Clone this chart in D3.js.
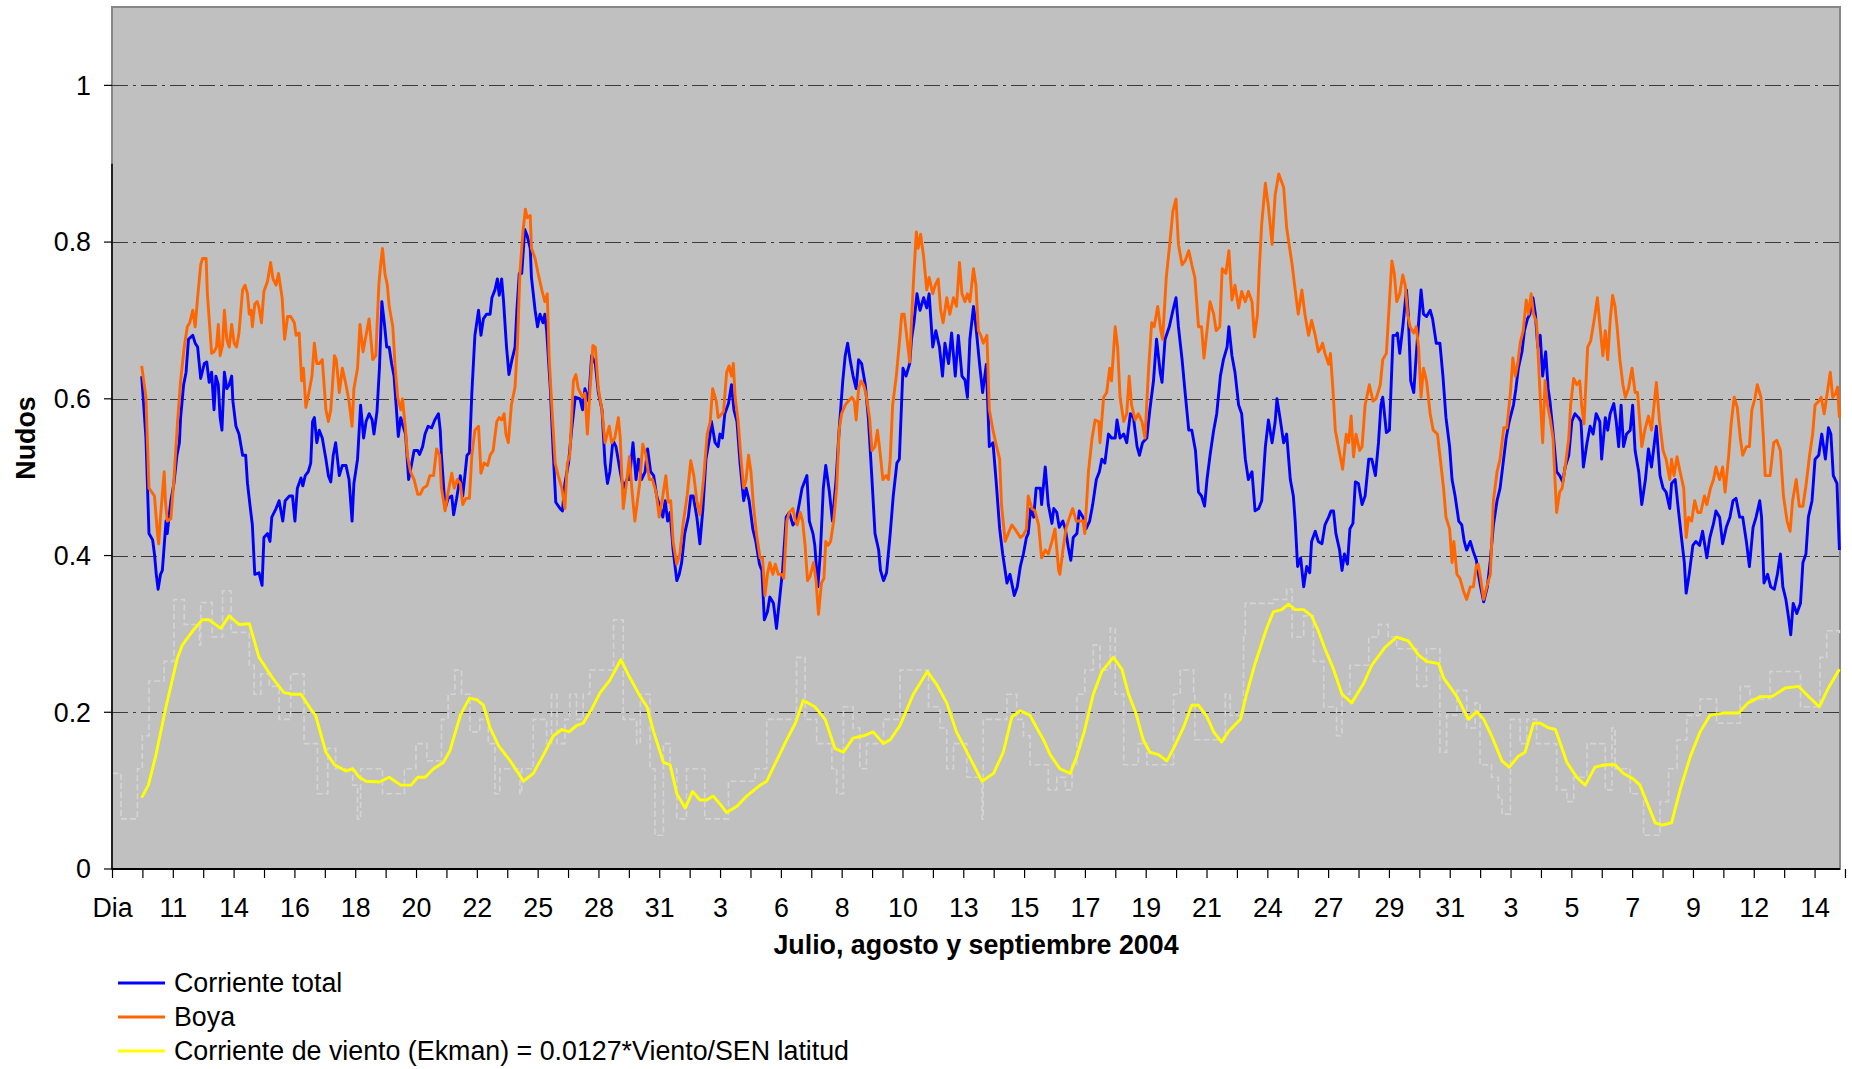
<!DOCTYPE html>
<html>
<head>
<meta charset="utf-8">
<script src="https://cdn.jsdelivr.net/npm/d3@7"></script>
<style>
  body { margin: 0; background: #fff; }
  svg { display: block; font-family: "Liberation Sans", Arial, sans-serif; }
</style>
</head>
<body>
<div id="chart"></div>
<script>
// x positions are in axis units: 0 = "Dia", 1 = first day label, ... (one unit per label)
const xTickLabels = ["Dia", "11", "14", "16", "18", "20", "22", "25", "28", "31", "3", "6", "8",
  "10", "13", "15", "17", "19", "21", "24", "27", "29", "31", "3", "5", "7", "9", "12", "14"];
const yTicks = [0, 0.2, 0.4, 0.6, 0.8, 1];
const yTickLabels = ["0", "0.2", "0.4", "0.6", "0.8", "1"];
const seriesNames = ["Corriente total", "Boya", "Corriente de viento (Ekman) = 0.0127*Viento/SEN latitud"];

const corrienteTotal = [
  [0.48,.629],[0.55,.550],[0.60,.428],[0.66,.420],[0.69,.402],[0.72,.376],[0.75,.357],[0.79,.376],[0.82,.381],[0.88,.444],
  [0.90,.428],[0.96,.470],[1.01,.492],[1.06,.528],[1.10,.544],[1.12,.576],[1.17,.618],[1.21,.634],[1.25,.676],[1.32,.681],
  [1.36,.671],[1.40,.666],[1.45,.626],[1.51,.645],[1.55,.647],[1.59,.621],[1.63,.634],[1.67,.586],[1.70,.629],[1.74,.618],
  [1.77,.576],[1.80,.560],[1.84,.634],[1.88,.613],[1.92,.618],[1.96,.629],[1.98,.597],[2.03,.565],[2.08,.555],[2.14,.528],
  [2.19,.528],[2.22,.492],[2.26,.465],[2.30,.439],[2.34,.376],[2.41,.378],[2.46,.362],[2.49,.423],[2.55,.428],[2.59,.418],
  [2.62,.449],[2.69,.460],[2.74,.470],[2.80,.444],[2.84,.470],[2.91,.476],[2.96,.476],[3.00,.444],[3.04,.486],[3.10,.499],
  [3.13,.489],[3.17,.502],[3.22,.507],[3.26,.518],[3.29,.571],[3.32,.576],[3.36,.544],[3.40,.560],[3.45,.550],[3.51,.523],
  [3.55,.502],[3.59,.494],[3.63,.528],[3.67,.544],[3.70,.523],[3.73,.502],[3.78,.515],[3.84,.515],[3.89,.497],[3.94,.444],
  [3.97,.492],[4.03,.523],[4.08,.592],[4.13,.550],[4.17,.571],[4.22,.581],[4.27,.573],[4.30,.555],[4.35,.584],[4.39,.639],
  [4.43,.724],[4.47,.697],[4.51,.666],[4.55,.666],[4.59,.645],[4.63,.629],[4.67,.586],[4.70,.552],[4.74,.576],[4.78,.565],
  [4.82,.555],[4.87,.497],[4.91,.513],[4.96,.534],[5.02,.534],[5.05,.529],[5.10,.539],[5.14,.555],[5.19,.565],[5.25,.563],
  [5.30,.573],[5.36,.581],[5.39,.560],[5.41,.528],[5.47,.460],[5.52,.473],[5.58,.476],[5.61,.452],[5.66,.473],[5.72,.502],
  [5.76,.476],[5.83,.528],[5.87,.531],[5.91,.608],[5.96,.681],[6.02,.713],[6.06,.681],[6.10,.702],[6.15,.708],[6.21,.708],
  [6.24,.729],[6.29,.739],[6.33,.753],[6.36,.732],[6.40,.753],[6.43,.726],[6.48,.666],[6.52,.631],[6.57,.650],[6.62,.666],
  [6.65,.713],[6.69,.760],[6.73,.760],[6.78,.816],[6.82,.808],[6.87,.792],[6.89,.755],[6.95,.713],[6.99,.692],[7.03,.708],
  [7.08,.697],[7.11,.708],[7.14,.687],[7.20,.613],[7.25,.528],[7.29,.468],[7.36,.460],[7.40,.457],[7.44,.492],[7.50,.518],
  [7.55,.560],[7.61,.602],[7.69,.600],[7.73,.586],[7.77,.613],[7.83,.597],[7.88,.655],[7.94,.645],[7.99,.608],[8.05,.586],
  [8.10,.518],[8.14,.492],[8.18,.507],[8.23,.547],[8.28,.539],[8.35,.507],[8.40,.486],[8.46,.497],[8.50,.497],[8.56,.544],
  [8.61,.497],[8.65,.523],[8.70,.497],[8.76,.507],[8.80,.536],[8.85,.507],[8.90,.502],[8.95,.476],[9.01,.460],[9.05,.449],
  [9.09,.470],[9.13,.444],[9.17,.455],[9.22,.407],[9.28,.368],[9.32,.376],[9.36,.391],[9.41,.428],[9.47,.449],[9.51,.476],
  [9.55,.476],[9.61,.449],[9.66,.415],[9.71,.460],[9.76,.523],[9.82,.550],[9.85,.571],[9.91,.544],[9.96,.539],[9.99,.555],
  [10.03,.550],[10.07,.581],[10.13,.594],[10.18,.618],[10.22,.586],[10.27,.571],[10.32,.518],[10.38,.470],[10.42,.486],[10.47,.470],
  [10.53,.434],[10.58,.418],[10.64,.389],[10.68,.381],[10.72,.318],[10.77,.328],[10.81,.347],[10.87,.339],[10.92,.307],[10.97,.344],
  [11.02,.381],[11.08,.449],[11.13,.455],[11.19,.439],[11.24,.444],[11.28,.460],[11.34,.486],[11.42,.502],[11.46,.444],[11.52,.428],
  [11.55,.413],[11.60,.360],[11.64,.402],[11.69,.486],[11.73,.515],[11.79,.481],[11.84,.444],[11.90,.497],[11.95,.560],[12.01,.623],
  [12.05,.655],[12.09,.671],[12.13,.650],[12.18,.629],[12.23,.613],[12.27,.650],[12.32,.645],[12.38,.618],[12.43,.576],[12.49,.497],
  [12.54,.428],[12.60,.407],[12.63,.381],[12.68,.368],[12.73,.378],[12.79,.428],[12.84,.476],[12.90,.518],[12.94,.523],[13.00,.639],
  [13.05,.629],[13.11,.645],[13.14,.676],[13.18,.697],[13.23,.734],[13.28,.713],[13.34,.729],[13.39,.716],[13.43,.734],[13.49,.666],
  [13.54,.687],[13.60,.666],[13.65,.629],[13.69,.671],[13.75,.645],[13.80,.684],[13.86,.629],[13.91,.681],[13.97,.629],[14.02,.624],
  [14.06,.602],[14.10,.676],[14.16,.718],[14.20,.692],[14.26,.644],[14.31,.608],[14.37,.644],[14.42,.539],[14.48,.544],[14.53,.497],
  [14.59,.434],[14.64,.402],[14.71,.365],[14.76,.376],[14.83,.349],[14.88,.360],[14.93,.386],[14.98,.402],[15.03,.423],[15.06,.428],
  [15.10,.460],[15.15,.449],[15.19,.486],[15.26,.486],[15.28,.465],[15.34,.513],[15.39,.465],[15.45,.441],[15.48,.460],[15.53,.455],
  [15.57,.436],[15.63,.444],[15.67,.434],[15.72,.410],[15.76,.394],[15.80,.423],[15.86,.428],[15.90,.457],[15.96,.449],[16.01,.434],
  [16.07,.444],[16.12,.465],[16.18,.497],[16.23,.507],[16.27,.523],[16.32,.518],[16.38,.555],[16.43,.550],[16.49,.550],[16.52,.573],
  [16.57,.550],[16.63,.555],[16.68,.544],[16.74,.581],[16.79,.576],[16.85,.539],[16.89,.528],[16.94,.544],[17.01,.550],[17.06,.586],
  [17.12,.623],[17.17,.676],[17.23,.634],[17.26,.621],[17.31,.676],[17.38,.692],[17.44,.713],[17.49,.729],[17.53,.692],[17.59,.650],
  [17.64,.608],[17.70,.560],[17.75,.560],[17.81,.534],[17.86,.481],[17.91,.476],[17.96,.463],[18.00,.497],[18.05,.528],[18.11,.560],
  [18.16,.581],[18.22,.629],[18.27,.650],[18.33,.666],[18.36,.692],[18.41,.655],[18.46,.634],[18.52,.592],[18.57,.581],[18.63,.523],
  [18.68,.497],[18.74,.507],[18.79,.457],[18.85,.460],[18.90,.470],[18.96,.539],[19.01,.573],[19.07,.544],[19.12,.570],[19.15,.600],
  [19.20,.576],[19.26,.544],[19.31,.555],[19.37,.497],[19.42,.476],[19.45,.444],[19.49,.386],[19.54,.397],[19.59,.360],[19.64,.386],
  [19.69,.378],[19.72,.418],[19.78,.431],[19.83,.418],[19.89,.415],[19.94,.439],[20.00,.449],[20.04,.457],[20.08,.457],[20.12,.428],
  [20.18,.407],[20.22,.381],[20.26,.402],[20.31,.389],[20.35,.434],[20.40,.441],[20.44,.494],[20.49,.492],[20.55,.465],[20.60,.476],
  [20.66,.523],[20.71,.523],[20.77,.502],[20.82,.544],[20.86,.592],[20.89,.602],[20.95,.557],[21.00,.560],[21.06,.681],[21.11,.681],
  [21.13,.684],[21.17,.658],[21.22,.692],[21.28,.739],[21.31,.708],[21.35,.623],[21.40,.608],[21.44,.655],[21.48,.697],[21.52,.739],
  [21.56,.708],[21.61,.705],[21.67,.713],[21.71,.702],[21.77,.671],[21.83,.671],[21.88,.629],[21.93,.576],[21.99,.539],[22.03,.497],
  [22.08,.476],[22.14,.444],[22.19,.439],[22.23,.418],[22.27,.407],[22.33,.418],[22.38,.405],[22.43,.394],[22.46,.378],[22.50,.360],
  [22.55,.341],[22.61,.360],[22.66,.394],[22.71,.439],[22.77,.470],[22.82,.486],[22.87,.518],[22.92,.550],[22.97,.571],[23.04,.592],
  [23.08,.613],[23.12,.639],[23.18,.660],[23.22,.687],[23.27,.702],[23.31,.708],[23.36,.729],[23.40,.708],[23.44,.666],[23.48,.681],
  [23.52,.629],[23.57,.660],[23.61,.613],[23.64,.597],[23.70,.550],[23.75,.507],[23.80,.502],[23.85,.494],[23.89,.513],[23.95,.528],
  [24.00,.571],[24.05,.581],[24.11,.576],[24.15,.571],[24.19,.513],[24.25,.544],[24.30,.565],[24.35,.555],[24.40,.581],[24.46,.571],
  [24.49,.523],[24.55,.576],[24.59,.560],[24.63,.581],[24.69,.594],[24.73,.571],[24.77,.539],[24.81,.592],[24.85,.539],[24.90,.555],
  [24.96,.560],[25.00,.592],[25.04,.534],[25.10,.507],[25.15,.465],[25.21,.497],[25.26,.536],[25.31,.513],[25.39,.565],[25.45,.502],
  [25.50,.486],[25.55,.481],[25.61,.460],[25.64,.492],[25.70,.497],[25.75,.460],[25.81,.418],[25.85,.391],[25.88,.352],[25.93,.376],
  [25.99,.413],[26.04,.418],[26.10,.413],[26.15,.431],[26.22,.397],[26.27,.423],[26.33,.441],[26.37,.457],[26.43,.449],[26.48,.415],
  [26.54,.436],[26.60,.449],[26.65,.470],[26.70,.473],[26.76,.449],[26.81,.449],[26.87,.418],[26.92,.386],[26.98,.436],[27.03,.449],
  [27.09,.470],[27.12,.449],[27.16,.365],[27.22,.376],[27.27,.360],[27.33,.357],[27.38,.376],[27.43,.402],[27.47,.360],[27.52,.344],
  [27.56,.323],[27.60,.299],[27.64,.339],[27.70,.326],[27.76,.339],[27.80,.391],[27.85,.402],[27.89,.449],[27.95,.470],[28.00,.523],
  [28.06,.528],[28.11,.555],[28.17,.523],[28.22,.563],[28.26,.555],[28.30,.502],[28.36,.492],[28.40,.407]
];

const boya = [
  [0.48,.642],[0.55,.602],[0.60,.486],[0.69,.476],[0.74,.428],[0.76,.415],[0.79,.450],[0.85,.507],[0.87,.470],[0.90,.444],
  [0.96,.447],[1.01,.497],[1.07,.571],[1.12,.623],[1.18,.666],[1.23,.692],[1.27,.697],[1.32,.713],[1.36,.692],[1.40,.729],
  [1.45,.771],[1.48,.779],[1.54,.779],[1.56,.734],[1.59,.702],[1.63,.658],[1.67,.660],[1.71,.666],[1.74,.695],[1.77,.655],
  [1.81,.668],[1.84,.713],[1.88,.676],[1.92,.666],[1.96,.695],[2.00,.671],[2.04,.666],[2.08,.684],[2.14,.739],[2.18,.745],
  [2.22,.734],[2.25,.708],[2.28,.713],[2.30,.692],[2.34,.721],[2.38,.724],[2.41,.716],[2.45,.697],[2.49,.737],[2.55,.750],
  [2.60,.774],[2.64,.753],[2.69,.745],[2.73,.760],[2.79,.729],[2.83,.676],[2.88,.705],[2.93,.705],[2.99,.697],[3.02,.681],
  [3.07,.684],[3.11,.623],[3.14,.639],[3.18,.589],[3.23,.608],[3.28,.629],[3.32,.671],[3.36,.645],[3.40,.645],[3.45,.650],
  [3.51,.586],[3.55,.571],[3.59,.586],[3.65,.655],[3.68,.650],[3.73,.608],[3.78,.639],[3.84,.618],[3.89,.597],[3.94,.565],
  [3.97,.613],[4.03,.639],[4.07,.695],[4.12,.660],[4.17,.681],[4.22,.702],[4.28,.650],[4.33,.655],[4.38,.745],[4.41,.771],
  [4.44,.792],[4.48,.760],[4.52,.745],[4.55,.718],[4.61,.692],[4.65,.639],[4.69,.602],[4.74,.586],[4.77,.600],[4.82,.560],
  [4.85,.528],[4.90,.507],[4.96,.497],[5.02,.478],[5.06,.478],[5.11,.486],[5.17,.489],[5.22,.502],[5.28,.502],[5.33,.536],
  [5.38,.528],[5.41,.486],[5.47,.457],[5.52,.481],[5.58,.505],[5.62,.486],[5.67,.497],[5.72,.492],[5.76,.465],[5.81,.473],
  [5.87,.473],[5.91,.528],[5.96,.560],[6.02,.565],[6.06,.505],[6.11,.518],[6.17,.515],[6.21,.528],[6.26,.534],[6.32,.571],
  [6.36,.576],[6.40,.573],[6.44,.581],[6.47,.555],[6.51,.544],[6.56,.592],[6.62,.615],[6.66,.671],[6.70,.760],[6.75,.813],
  [6.79,.842],[6.82,.831],[6.87,.834],[6.89,.792],[6.95,.779],[7.00,.760],[7.06,.739],[7.11,.724],[7.15,.734],[7.18,.655],
  [7.22,.597],[7.28,.518],[7.33,.502],[7.39,.486],[7.44,.460],[7.48,.518],[7.52,.528],[7.58,.623],[7.62,.631],[7.66,.613],
  [7.73,.602],[7.77,.607],[7.81,.555],[7.85,.607],[7.90,.668],[7.94,.666],[7.99,.613],[8.05,.586],[8.10,.544],[8.17,.565],
  [8.21,.544],[8.26,.550],[8.32,.576],[8.35,.550],[8.40,.460],[8.46,.497],[8.50,.526],[8.54,.486],[8.59,.444],[8.67,.492],
  [8.72,.542],[8.77,.529],[8.83,.497],[8.88,.497],[8.94,.481],[8.99,.449],[9.05,.476],[9.10,.502],[9.14,.468],[9.18,.470],
  [9.22,.418],[9.28,.389],[9.33,.402],[9.39,.444],[9.45,.476],[9.51,.521],[9.56,.502],[9.61,.470],[9.66,.452],[9.72,.497],
  [9.78,.555],[9.83,.571],[9.87,.613],[9.93,.597],[9.96,.576],[9.99,.578],[10.05,.584],[10.10,.634],[10.14,.642],[10.18,.629],
  [10.21,.645],[10.24,.602],[10.29,.571],[10.33,.529],[10.38,.486],[10.42,.497],[10.46,.528],[10.50,.507],[10.54,.465],[10.59,.428],
  [10.65,.397],[10.69,.397],[10.73,.349],[10.77,.376],[10.81,.391],[10.86,.376],[10.90,.389],[10.95,.376],[11.01,.376],[11.04,.371],
  [11.09,.444],[11.13,.455],[11.19,.460],[11.23,.444],[11.26,.439],[11.31,.455],[11.35,.444],[11.39,.413],[11.43,.368],[11.47,.373],
  [11.53,.391],[11.57,.368],[11.61,.325],[11.66,.365],[11.70,.371],[11.73,.418],[11.77,.413],[11.81,.418],[11.86,.444],[11.91,.486],
  [11.95,.560],[11.99,.581],[12.05,.592],[12.10,.597],[12.16,.602],[12.20,.597],[12.23,.573],[12.27,.613],[12.31,.623],[12.35,.618],
  [12.39,.607],[12.45,.576],[12.49,.534],[12.54,.539],[12.58,.560],[12.62,.534],[12.67,.497],[12.72,.502],[12.76,.497],[12.79,.523],
  [12.83,.592],[12.89,.629],[12.94,.671],[12.98,.708],[13.02,.708],[13.06,.681],[13.11,.647],[13.14,.700],[13.18,.760],[13.22,.813],
  [13.25,.792],[13.29,.810],[13.34,.781],[13.39,.739],[13.43,.755],[13.49,.734],[13.53,.745],[13.58,.753],[13.62,.713],[13.66,.697],
  [13.72,.729],[13.77,.708],[13.83,.729],[13.88,.718],[13.93,.774],[13.97,.734],[14.02,.724],[14.06,.734],[14.10,.724],[14.16,.766],
  [14.20,.745],[14.24,.687],[14.28,.681],[14.32,.671],[14.38,.681],[14.42,.586],[14.48,.560],[14.54,.539],[14.59,.523],[14.62,.465],
  [14.68,.418],[14.73,.428],[14.79,.439],[14.84,.434],[14.93,.423],[14.98,.426],[15.03,.434],[15.06,.476],[15.12,.460],[15.17,.457],
  [15.23,.439],[15.28,.397],[15.34,.407],[15.39,.402],[15.45,.418],[15.50,.434],[15.56,.381],[15.58,.376],[15.63,.407],[15.68,.434],
  [15.74,.449],[15.79,.460],[15.85,.444],[15.90,.444],[15.96,.444],[15.99,.428],[16.05,.507],[16.11,.550],[16.16,.573],[16.22,.571],
  [16.24,.544],[16.30,.602],[16.35,.608],[16.40,.639],[16.43,.623],[16.49,.692],[16.53,.666],[16.57,.602],[16.63,.571],[16.68,.581],
  [16.72,.629],[16.76,.592],[16.82,.573],[16.87,.581],[16.93,.571],[16.98,.550],[17.04,.639],[17.09,.697],[17.13,.692],[17.19,.718],
  [17.24,.687],[17.27,.676],[17.33,.755],[17.38,.792],[17.44,.840],[17.49,.855],[17.53,.797],[17.59,.771],[17.64,.776],[17.70,.789],
  [17.75,.771],[17.80,.755],[17.86,.692],[17.91,.692],[17.95,.652],[18.00,.687],[18.05,.724],[18.11,.708],[18.15,.687],[18.21,.692],
  [18.25,.766],[18.31,.760],[18.36,.789],[18.41,.726],[18.46,.745],[18.52,.716],[18.57,.737],[18.63,.724],[18.68,.737],[18.74,.724],
  [18.78,.679],[18.83,.708],[18.86,.766],[18.90,.824],[18.96,.875],[19.01,.845],[19.07,.797],[19.12,.860],[19.18,.887],[19.26,.870],
  [19.31,.818],[19.40,.771],[19.45,.739],[19.50,.708],[19.56,.739],[19.61,.708],[19.67,.681],[19.72,.700],[19.78,.681],[19.83,.660],
  [19.86,.663],[19.90,.671],[19.94,.658],[20.00,.644],[20.03,.658],[20.07,.613],[20.11,.560],[20.16,.539],[20.23,.510],[20.29,.555],
  [20.33,.544],[20.37,.578],[20.41,.526],[20.45,.555],[20.51,.534],[20.55,.539],[20.60,.592],[20.67,.618],[20.73,.597],[20.78,.600],
  [20.85,.618],[20.89,.650],[20.95,.658],[21.00,.724],[21.04,.776],[21.08,.760],[21.12,.724],[21.17,.734],[21.22,.758],[21.26,.745],
  [21.30,.708],[21.34,.692],[21.40,.684],[21.44,.692],[21.48,.666],[21.52,.602],[21.56,.639],[21.61,.623],[21.67,.581],[21.72,.560],
  [21.79,.555],[21.83,.528],[21.89,.486],[21.93,.449],[21.99,.434],[22.03,.391],[22.06,.418],[22.11,.376],[22.16,.371],[22.22,.354],
  [22.27,.344],[22.33,.360],[22.38,.360],[22.43,.387],[22.46,.389],[22.50,.371],[22.55,.344],[22.60,.360],[22.66,.376],[22.71,.470],
  [22.77,.507],[22.82,.523],[22.88,.563],[22.93,.563],[22.99,.608],[23.03,.652],[23.07,.629],[23.11,.645],[23.15,.671],[23.20,.687],
  [23.25,.726],[23.29,.708],[23.33,.734],[23.37,.708],[23.42,.697],[23.48,.602],[23.52,.544],[23.56,.623],[23.60,.592],[23.64,.576],
  [23.69,.550],[23.73,.486],[23.75,.455],[23.80,.481],[23.84,.486],[23.89,.513],[23.95,.550],[23.98,.592],[24.03,.626],[24.08,.618],
  [24.13,.623],[24.16,.592],[24.20,.568],[24.26,.666],[24.31,.674],[24.37,.702],[24.42,.729],[24.47,.687],[24.51,.655],[24.55,.687],
  [24.59,.650],[24.63,.700],[24.67,.732],[24.71,.718],[24.75,.687],[24.79,.650],[24.84,.618],[24.88,.602],[24.93,.613],[24.99,.639],
  [25.04,.608],[25.08,.608],[25.15,.539],[25.20,.560],[25.26,.578],[25.31,.560],[25.39,.621],[25.44,.573],[25.50,.534],[25.55,.523],
  [25.61,.497],[25.64,.523],[25.68,.502],[25.73,.526],[25.78,.507],[25.84,.486],[25.88,.423],[25.92,.449],[25.97,.444],[26.02,.470],
  [26.07,.455],[26.12,.455],[26.18,.476],[26.22,.465],[26.28,.486],[26.33,.497],[26.37,.513],[26.43,.497],[26.48,.513],[26.52,.481],
  [26.58,.528],[26.62,.568],[26.67,.602],[26.72,.589],[26.77,.550],[26.81,.528],[26.87,.539],[26.92,.539],[26.96,.586],[27.01,.600],
  [27.05,.618],[27.11,.602],[27.15,.550],[27.18,.502],[27.26,.502],[27.32,.544],[27.37,.547],[27.43,.534],[27.48,.476],[27.54,.444],
  [27.59,.431],[27.63,.470],[27.69,.497],[27.74,.463],[27.80,.463],[27.85,.489],[27.91,.528],[27.96,.555],[28.00,.592],[28.06,.597],
  [28.10,.602],[28.15,.581],[28.19,.602],[28.25,.634],[28.29,.602],[28.34,.607],[28.37,.615],[28.40,.576]
];

const ekman = [
  [0.48,.091],[0.59,.107],[0.71,.144],[0.88,.207],[1.07,.270],[1.15,.286],[1.32,.304],[1.48,.318],[1.59,.318],[1.78,.307],
  [1.92,.323],[2.08,.312],[2.25,.313],[2.41,.270],[2.63,.244],[2.82,.225],[2.96,.223],[3.10,.223],[3.26,.204],[3.34,.196],
  [3.51,.149],[3.65,.133],[3.84,.125],[3.95,.128],[4.06,.117],[4.17,.112],[4.39,.111],[4.55,.117],[4.74,.107],[4.91,.107],
  [5.02,.117],[5.14,.117],[5.28,.128],[5.44,.136],[5.55,.151],[5.72,.196],[5.87,.218],[5.99,.216],[6.10,.209],[6.21,.180],
  [6.35,.157],[6.54,.138],[6.76,.112],[6.92,.122],[7.09,.146],[7.25,.170],[7.39,.178],[7.51,.175],[7.63,.183],[7.74,.186],
  [7.88,.204],[8.02,.225],[8.18,.241],[8.36,.267],[8.51,.244],[8.68,.220],[8.79,.207],[8.90,.175],[9.06,.136],[9.17,.133],
  [9.28,.096],[9.42,.078],[9.54,.099],[9.66,.088],[9.77,.088],[9.88,.093],[9.99,.083],[10.10,.072],[10.27,.080],[10.43,.093],
  [10.65,.107],[10.76,.112],[10.92,.138],[11.09,.165],[11.23,.186],[11.36,.215],[11.55,.207],[11.72,.191],[11.88,.154],[12.02,.149],
  [12.18,.167],[12.35,.170],[12.51,.175],[12.68,.160],[12.79,.165],[12.95,.183],[13.17,.223],[13.40,.252],[13.55,.236],[13.72,.212],
  [13.88,.175],[14.16,.133],[14.30,.112],[14.49,.122],[14.65,.149],[14.79,.194],[14.93,.202],[15.09,.196],[15.20,.180],[15.31,.165],
  [15.42,.146],[15.58,.128],[15.75,.122],[15.86,.144],[15.98,.175],[16.13,.223],[16.27,.252],[16.46,.270],[16.60,.255],[16.71,.223],
  [16.83,.199],[16.95,.165],[17.06,.149],[17.20,.146],[17.34,.138],[17.45,.154],[17.61,.180],[17.75,.209],[17.86,.209],[18.00,.194],
  [18.11,.175],[18.24,.162],[18.35,.175],[18.55,.191],[18.65,.223],[18.79,.262],[18.98,.307],[19.09,.328],[19.23,.331],[19.34,.338],
  [19.45,.331],[19.59,.331],[19.72,.323],[19.83,.304],[19.94,.281],[20.08,.255],[20.22,.223],[20.38,.212],[20.57,.236],[20.71,.260],
  [20.93,.283],[21.12,.296],[21.31,.291],[21.48,.273],[21.61,.265],[21.81,.262],[21.89,.244],[22.11,.220],[22.30,.191],[22.44,.201],
  [22.55,.191],[22.68,.170],[22.85,.138],[22.97,.130],[23.12,.144],[23.23,.149],[23.37,.186],[23.48,.186],[23.62,.180],[23.73,.178],
  [23.92,.136],[24.08,.117],[24.22,.107],[24.38,.130],[24.55,.133],[24.71,.133],[24.85,.122],[25.01,.115],[25.12,.107],[25.23,.086],
  [25.37,.059],[25.48,.056],[25.64,.059],[25.78,.101],[25.95,.144],[26.11,.175],[26.27,.196],[26.49,.199],[26.74,.199],[26.90,.212],
  [27.10,.220],[27.29,.220],[27.51,.231],[27.73,.233],[27.92,.218],[28.07,.207],[28.22,.231],[28.40,.255]
];

// faint dashed step trace behind the Ekman curve
const viento = [
  [0.00,.122],[0.14,.064],[0.41,.128],[0.49,.170],[0.60,.240],[0.85,.265],[1.01,.344],[1.18,.312],[1.43,.286],[1.45,.340],
  [1.64,.296],[1.81,.355],[1.95,.302],[2.25,.260],[2.33,.223],[2.44,.249],[2.58,.233],[2.74,.191],[2.93,.249],[3.15,.160],
  [3.37,.096],[3.54,.154],[3.67,.128],[3.95,.107],[4.03,.064],[4.08,.128],[4.44,.096],[4.80,.128],[4.99,.160],[5.17,.138],
  [5.41,.191],[5.52,.223],[5.63,.254],[5.74,.223],[5.88,.175],[6.04,.191],[6.18,.160],[6.29,.096],[6.37,.128],[6.70,.096],
  [6.73,.128],[6.92,.191],[7.14,.160],[7.22,.223],[7.31,.160],[7.44,.191],[7.52,.223],[7.63,.191],[7.74,.223],[7.85,.254],
  [8.24,.318],[8.40,.191],[8.62,.160],[8.68,.223],[8.84,.128],[8.92,.043],[9.06,.160],[9.17,.128],[9.28,.064],[9.44,.128],
  [9.74,.064],[10.13,.112],[10.57,.128],[10.76,.191],[11.25,.270],[11.39,.191],[11.58,.160],[11.83,.128],[11.91,.096],[12.02,.207],
  [12.18,.180],[12.29,.128],[12.40,.160],[12.68,.191],[12.95,.254],[13.42,.207],[13.61,.180],[13.72,.128],[13.83,.160],[14.05,.117],
  [14.30,.064],[14.32,.191],[14.71,.223],[14.87,.191],[14.98,.170],[15.09,.133],[15.39,.101],[15.53,.117],[15.67,.101],[15.78,.133],
  [15.86,.223],[15.99,.254],[16.13,.286],[16.24,.254],[16.41,.307],[16.49,.223],[16.63,.133],[16.87,.160],[17.01,.133],[17.45,.223],
  [17.56,.254],[17.78,.223],[17.80,.165],[18.30,.223],[18.38,.196],[18.60,.296],[18.63,.339],[19.09,.344],[19.31,.357],[19.40,.296],
  [19.59,.323],[19.75,.265],[19.92,.207],[20.13,.170],[20.22,.223],[20.35,.260],[20.66,.296],[20.82,.312],[20.98,.296],[21.12,.281],
  [21.45,.233],[21.61,.281],[21.83,.149],[21.94,.196],[22.11,.228],[22.27,.180],[22.41,.212],[22.49,.133],[22.68,.117],[22.79,.091],
  [22.85,.070],[22.99,.191],[23.15,.160],[23.26,.191],[23.42,.160],[23.75,.101],[23.92,.086],[24.03,.117],[24.25,.160],[24.55,.101],
  [24.66,.180],[24.71,.128],[24.96,.096],[25.18,.043],[25.45,.086],[25.59,.128],[25.73,.165],[25.89,.196],[26.11,.217],[26.38,.186],
  [26.77,.233],[26.93,.217],[27.26,.252],[27.76,.207],[28.08,.270],[28.19,.304],[28.40,.299]
];

class CurrentsChart {
  constructor(el) {
    this.el = el;
    this.init();
  }

  init() {
    this.setup();
    this.scaffold();
    this.render();
  }

  setup() {
    this.width = 1852;
    this.height = 1069;
    this.plotLeft = 112;
    this.plotRight = 1840;
    this.plotTop = 7;
    this.plotBottom = 869;
    this.fontSize = 26.8;

    this.x = d3.scaleLinear().domain([0, 28.41]).range([112.5, this.plotRight]);
    this.y = d3.scaleLinear().domain([0, 1.1]).range([this.plotBottom, this.plotTop]);

    this.colors = ["#0000ff", "#ff6600", "#ffff00"];
  }

  scaffold() {
    this.svg = d3.select(this.el)
      .append("svg")
      .attr("width", this.width)
      .attr("height", this.height)
      .attr("viewBox", [0, 0, this.width, this.height]);
    this.gPlot = this.svg.append("g").attr("class", "plot-g");
    this.gAxes = this.svg.append("g").attr("class", "axes-g");
    this.gLegend = this.svg.append("g").attr("class", "legend-g");
  }

  render() {
    const { x, y } = this;

    this.gPlot.append("rect")
      .attr("x", this.plotLeft)
      .attr("y", this.plotTop)
      .attr("width", this.plotRight - this.plotLeft)
      .attr("height", this.plotBottom - this.plotTop)
      .attr("fill", "#c0c0c0")
      .attr("stroke", "#868686")
      .attr("stroke-width", 2);

    this.gPlot.append("g")
      .selectAll("line")
      .data(yTicks.filter((d) => d > 0))
      .join("line")
      .attr("x1", this.plotLeft)
      .attr("x2", this.plotRight)
      .attr("y1", (d) => Math.round(y(d)) + 0.5)
      .attr("y2", (d) => Math.round(y(d)) + 0.5)
      .attr("stroke", "#3a3a3a")
      .attr("stroke-width", 1.2)
      .attr("stroke-dasharray", "16,5,3,5");

    const line = d3.line().x((d) => x(d[0])).y((d) => y(d[1]));

    this.gPlot.append("path")
      .attr("d", line.curve(d3.curveStepAfter)(viento))
      .attr("fill", "none")
      .attr("stroke", "#d4d4d4")
      .attr("stroke-width", 1.6)
      .attr("stroke-dasharray", "6,3");

    line.curve(d3.curveLinear);
    [corrienteTotal, boya, ekman].forEach((data, i) => {
      this.gPlot.append("path")
        .attr("d", line(data))
        .attr("fill", "none")
        .attr("stroke", this.colors[i])
        .attr("stroke-width", 2.9)
        .attr("stroke-linejoin", "round");
    });

    // y axis
    this.gAxes.append("line")
      .attr("x1", this.plotLeft).attr("x2", this.plotLeft)
      .attr("y1", this.plotBottom).attr("y2", y(0.9))
      .attr("stroke", "#000").attr("stroke-width", 1.5);
    const yTick = this.gAxes.append("g")
      .selectAll("g")
      .data(yTicks)
      .join("g")
      .attr("transform", (d) => `translate(0,${y(d)})`);
    yTick.append("line")
      .attr("x1", this.plotLeft - 8).attr("x2", this.plotLeft)
      .attr("stroke", "#000").attr("stroke-width", 1.2);
    yTick.append("text")
      .attr("x", 91)
      .attr("dy", "0.35em")
      .attr("text-anchor", "end")
      .attr("font-size", this.fontSize)
      .text((d, i) => yTickLabels[i]);

    // x axis
    this.gAxes.append("line")
      .attr("x1", this.plotLeft).attr("x2", this.plotRight)
      .attr("y1", this.plotBottom).attr("y2", this.plotBottom)
      .attr("stroke", "#000").attr("stroke-width", 2.2);
    const minorTicks = d3.range(0, xTickLabels.length - 0.5 + 0.01, 0.5);
    this.gAxes.append("g")
      .selectAll("line")
      .data(minorTicks)
      .join("line")
      .attr("x1", (d) => x(d)).attr("x2", (d) => x(d))
      .attr("y1", this.plotBottom).attr("y2", this.plotBottom + 9)
      .attr("stroke", "#000").attr("stroke-width", 1.2);
    this.gAxes.append("g")
      .selectAll("text")
      .data(xTickLabels)
      .join("text")
      .attr("x", (d, i) => x(i))
      .attr("y", 917)
      .attr("text-anchor", "middle")
      .attr("font-size", this.fontSize)
      .text((d) => d);

    this.gAxes.append("text")
      .attr("x", (this.plotLeft + this.plotRight) / 2)
      .attr("y", 954)
      .attr("text-anchor", "middle")
      .attr("font-size", this.fontSize)
      .attr("font-weight", "bold")
      .text("Julio, agosto y septiembre 2004");

    this.gAxes.append("text")
      .attr("transform", `translate(35,${(this.plotTop + this.plotBottom) / 2}) rotate(-90)`)
      .attr("text-anchor", "middle")
      .attr("font-size", this.fontSize)
      .attr("font-weight", "bold")
      .text("Nudos");

    // legend
    const item = this.gLegend.selectAll("g")
      .data(seriesNames)
      .join("g")
      .attr("transform", (d, i) => `translate(0,${983 + i * 34})`);
    item.append("line")
      .attr("x1", 118).attr("x2", 165)
      .attr("stroke", (d, i) => this.colors[i])
      .attr("stroke-width", 2.9);
    item.append("text")
      .attr("x", 174)
      .attr("dy", "0.35em")
      .attr("font-size", this.fontSize)
      .text((d) => d);
  }
}

new CurrentsChart(document.getElementById("chart"));
</script>
</body>
</html>
